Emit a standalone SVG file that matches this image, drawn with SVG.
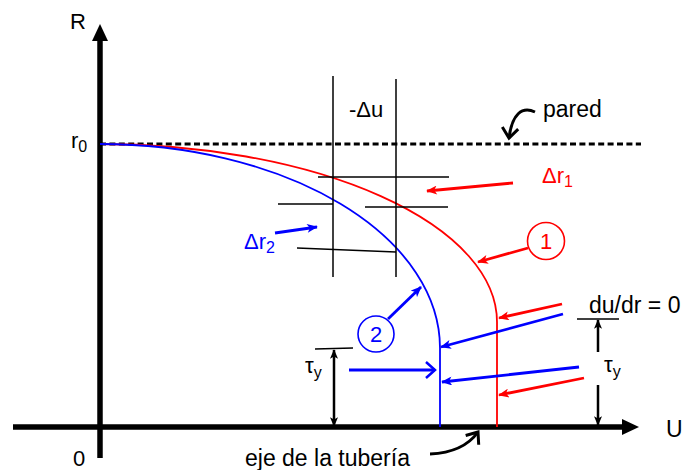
<svg xmlns="http://www.w3.org/2000/svg" width="686" height="470" viewBox="0 0 686 470">
<defs>
<style>
text{font-family:"Liberation Sans",Arial,sans-serif;}
.k{fill:#000;}
.r{fill:#ff0000;}
.b{fill:#0000ff;}
.thin{stroke:#000;stroke-width:1.5;fill:none;}
.ra{stroke:#ff0000;stroke-width:2.8;fill:none;marker-end:url(#mr);}
.ba{stroke:#0000ff;stroke-width:2.8;fill:none;marker-end:url(#mb);}
.ka{stroke:#000;stroke-width:2.5;fill:none;}
</style>
<marker id="mr" viewBox="0 0 12 10" refX="11" refY="5" markerWidth="12" markerHeight="9" markerUnits="userSpaceOnUse" orient="auto"><path d="M0,0 L12,5 L0,10 L3,5 z" fill="#ff0000"/></marker>
<marker id="mb" viewBox="0 0 12 10" refX="11" refY="5" markerWidth="12" markerHeight="9" markerUnits="userSpaceOnUse" orient="auto"><path d="M0,0 L12,5 L0,10 L3,5 z" fill="#0000ff"/></marker>
<marker id="mk" viewBox="0 0 12 10" refX="11" refY="5" markerWidth="11" markerHeight="8" markerUnits="userSpaceOnUse" orient="auto"><path d="M0,0 L12,5 L0,10 L3,5 z" fill="#000"/></marker>
<marker id="mks" viewBox="0 0 12 10" refX="1" refY="5" markerWidth="11" markerHeight="8" markerUnits="userSpaceOnUse" orient="auto"><path d="M12,0 L0,5 L12,10 L9,5 z" fill="#000"/></marker>
<marker id="vb" viewBox="0 0 12 20" refX="10" refY="10" markerWidth="12" markerHeight="20" markerUnits="userSpaceOnUse" orient="auto"><path d="M1,2 L10,10 L1,18" fill="none" stroke="#0000ff" stroke-width="2.5"/></marker>
<marker id="vk" viewBox="0 0 14 20" refX="11" refY="10" markerWidth="14" markerHeight="20" markerUnits="userSpaceOnUse" orient="auto"><path d="M1,2 L11,10 L1,18" fill="none" stroke="#000" stroke-width="3"/></marker>
</defs>
<rect width="686" height="470" fill="#fff"/>

<g id="axes">
<line x1="100" y1="40" x2="100" y2="458" stroke="#000" stroke-width="5.5"/>
<polygon points="92,41 108,41 100,24" fill="#000"/>
<line x1="13" y1="427" x2="623" y2="427" stroke="#000" stroke-width="5.5"/>
<polygon points="622,419 622,435 639,427" fill="#000"/>
<text x="70" y="29" font-size="22" class="k">R</text>
<text x="666" y="437" font-size="23" class="k">U</text>
<text x="73" y="466" font-size="22" class="k">0</text>
<text x="71" y="148" font-size="22" class="k">r<tspan font-size="16" dy="4">0</tspan></text>
</g>

<g id="pared">
<line x1="100" y1="144" x2="641" y2="144" stroke="#000" stroke-width="3" stroke-dasharray="6 3.4"/>
<text x="543" y="117" font-size="23" class="k">pared</text>
</g>

<g id="curve1">
<path d="M100,144 A397,178 0 0 1 497,322 L497,427" fill="none" stroke="#ff0000" stroke-width="1.8"/>
</g>
<g id="curve2">
<path d="M100,144 A340,204 0 0 1 440,348 L440,427" fill="none" stroke="#0000ff" stroke-width="1.8"/>
</g>

<g id="grid">
<line class="thin" x1="333" y1="76" x2="333" y2="277"/>
<line class="thin" x1="396" y1="79" x2="396" y2="277"/>
<line class="thin" x1="318" y1="177" x2="449" y2="177"/>
<line class="thin" x1="278" y1="204" x2="333" y2="204"/>
<line class="thin" x1="365" y1="207" x2="448" y2="207"/>
<line class="thin" x1="297" y1="248" x2="396" y2="252"/>
<text x="349" y="117" font-size="22" class="k">-Δu</text>
</g>

<g id="label-dr1">
<text x="542" y="183" font-size="22" class="r">Δr<tspan font-size="16" dy="4">1</tspan></text>
</g>
<g id="label-dr2">
<text x="244" y="249" font-size="22" class="b">Δr<tspan font-size="16" dy="4">2</tspan></text>
</g>
<g id="node1">
<circle cx="546" cy="241" r="18.5" fill="none" stroke="#ff0000" stroke-width="1.6"/>
<text x="546" y="249" font-size="22" text-anchor="middle" class="r">1</text>
</g>
<g id="node2">
<circle cx="376" cy="334" r="18" fill="none" stroke="#0000ff" stroke-width="1.6"/>
<text x="376" y="342" font-size="22" text-anchor="middle" class="b">2</text>
</g>
<g id="label-dudr">
<text x="589" y="313" font-size="23" class="k">du/dr = 0</text>
</g>
<g id="label-tau-left">
<text x="305" y="373" font-size="22" class="k">τ<tspan font-size="16" dy="5">y</tspan></text>
</g>
<g id="label-tau-right">
<text x="604" y="372" font-size="22" class="k">τ<tspan font-size="16" dy="5">y</tspan></text>
</g>
<g id="label-eje">
<text x="245" y="466" font-size="23" class="k">eje de la tubería</text>
</g>

<g id="connectors">
<path d="M535,112 C522,106 512,114 509,138" fill="none" stroke="#000" stroke-width="3" marker-end="url(#vk)"/>
<path d="M430,454 C452,453 468,446 478,432" fill="none" stroke="#000" stroke-width="3" marker-end="url(#vk)"/>
<line class="ra" x1="513" y1="183" x2="427" y2="191"/>
<line class="ra" x1="528" y1="248" x2="478" y2="262"/>
<line class="ra" x1="562" y1="304" x2="499" y2="318"/>
<line class="ra" x1="584" y1="378" x2="499" y2="395"/>
<line class="ba" x1="563" y1="314" x2="441" y2="347"/>
<line class="ba" x1="579" y1="367" x2="442" y2="382"/>
<line class="ba" x1="275" y1="233" x2="317" y2="227"/>
<line class="ba" x1="388" y1="319" x2="421" y2="287"/>
<line x1="349" y1="370" x2="435" y2="370" stroke="#0000ff" stroke-width="2.8" marker-end="url(#vb)"/>
<line class="thin" x1="315" y1="349" x2="353" y2="348"/>
<line class="ka" x1="334" y1="350" x2="334" y2="426" marker-start="url(#mks)" marker-end="url(#mk)"/>
<line class="thin" x1="577" y1="319" x2="619" y2="319"/>
<line class="ka" x1="598" y1="352" x2="598" y2="320" marker-end="url(#mk)"/>
<line class="ka" x1="598" y1="385" x2="598" y2="425" marker-end="url(#mk)"/>
</g>
</svg>
